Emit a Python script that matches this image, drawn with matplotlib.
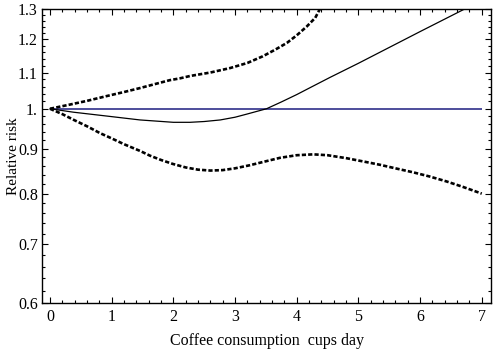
import matplotlib
matplotlib.use("Agg")
import matplotlib.pyplot as plt
from matplotlib.ticker import FixedLocator, FixedFormatter, MultipleLocator, NullFormatter
import numpy as np

# Data
upper_x = [0, 0.32, 0.6, 0.92, 1.2, 1.46, 1.7, 1.94, 2.1, 2.27, 2.6, 2.92, 3.2, 3.45, 3.65, 3.84, 4.0, 4.16, 4.3, 4.4]
upper_y = [1.0, 1.011, 1.021, 1.034, 1.045, 1.056, 1.067, 1.078, 1.083, 1.090, 1.100, 1.113, 1.128, 1.148, 1.168, 1.189, 1.213, 1.241, 1.27, 1.31]

lower_x = [0, 0.2, 0.4, 0.6, 0.81, 1.0, 1.2, 1.46, 1.62, 1.8, 1.99, 2.2, 2.4, 2.6, 2.8, 3.0, 3.24, 3.5, 3.73,
           4.0, 4.27, 4.5, 4.81, 5.1, 5.35, 5.6, 5.89, 6.15, 6.43, 6.7, 7.0]
lower_y = [1.0, 0.986, 0.970, 0.955, 0.938, 0.925, 0.911, 0.895, 0.884, 0.874, 0.865, 0.857, 0.852, 0.850, 0.851,
           0.855, 0.862, 0.871, 0.879, 0.885, 0.887, 0.885, 0.878, 0.870, 0.863, 0.855, 0.846, 0.837, 0.826, 0.814, 0.800]

est_x = [0, 0.38, 0.92, 1.46, 1.73, 2.0, 2.27, 2.5, 2.76, 3.0, 3.19, 3.35, 3.51, 3.75, 4.0, 4.25, 4.54, 5.0, 6.0, 7.0]
est_y = [1.0, 0.991, 0.981, 0.971, 0.968, 0.965, 0.965, 0.967, 0.971, 0.978, 0.986, 0.993, 1.0, 1.018, 1.038, 1.060,
         1.086, 1.127, 1.225, 1.330]

ref_x = [0, 7]
ref_y = [1.0, 1.0]

yticks = [0.6, 0.7, 0.8, 0.9, 1.0, 1.1, 1.2, 1.3]
ytick_labels = ["0.6", "0.7", "0.8", "0.9", "1.", "1.1", "1.2", "1.3"]
xticks = [0, 1, 2, 3, 4, 5, 6, 7]

plt.rcParams['font.family'] = ['Liberation Serif', 'DejaVu Serif']

fig = plt.figure(figsize=(4.94, 3.49), dpi=100)
ax = fig.add_axes([42/494, 1 - 303/349, (491-42)/494, (303-9)/349])

ax.plot(ref_x, ref_y, color='#1c1c80', lw=1.1, solid_capstyle='butt')
ax.plot(est_x, est_y, color='black', lw=0.9)
ax.plot(upper_x, upper_y, color='black', lw=1.9, dashes=(1.6, 0.8))
ax.plot(lower_x, lower_y, color='black', lw=1.9, dashes=(1.6, 0.8))

ax.set_yscale('log')
ax.set_ylim(0.6, 1.3)
ax.set_xlim(-0.13, 7.15)

ax.yaxis.set_major_locator(FixedLocator(yticks))
ax.yaxis.set_major_formatter(FixedFormatter(ytick_labels))
ax.yaxis.set_minor_locator(FixedLocator(list(np.round(np.arange(0.6, 1.3001, 0.02), 3))))
ax.yaxis.set_minor_formatter(NullFormatter())
ax.xaxis.set_major_locator(FixedLocator(xticks))
ax.xaxis.set_minor_locator(MultipleLocator(0.2))

ax.tick_params(which='both', direction='in', top=True, right=True, width=0.8,
               labelsize=11.5, colors='black')
ax.tick_params(which='major', length=4)
ax.tick_params(which='minor', length=2)
ax.tick_params(axis='y', pad=3)
ax.tick_params(axis='x', pad=4)
for s in ax.spines.values():
    s.set_linewidth(1.0)

ax.set_xlabel("Coffee consumption  cups day", fontsize=11.5, labelpad=6)
ax.set_ylabel("Relative risk", fontsize=11)
ax.yaxis.set_label_coords(-0.05, 0.5)

fig.savefig("out.png", dpi=100)
